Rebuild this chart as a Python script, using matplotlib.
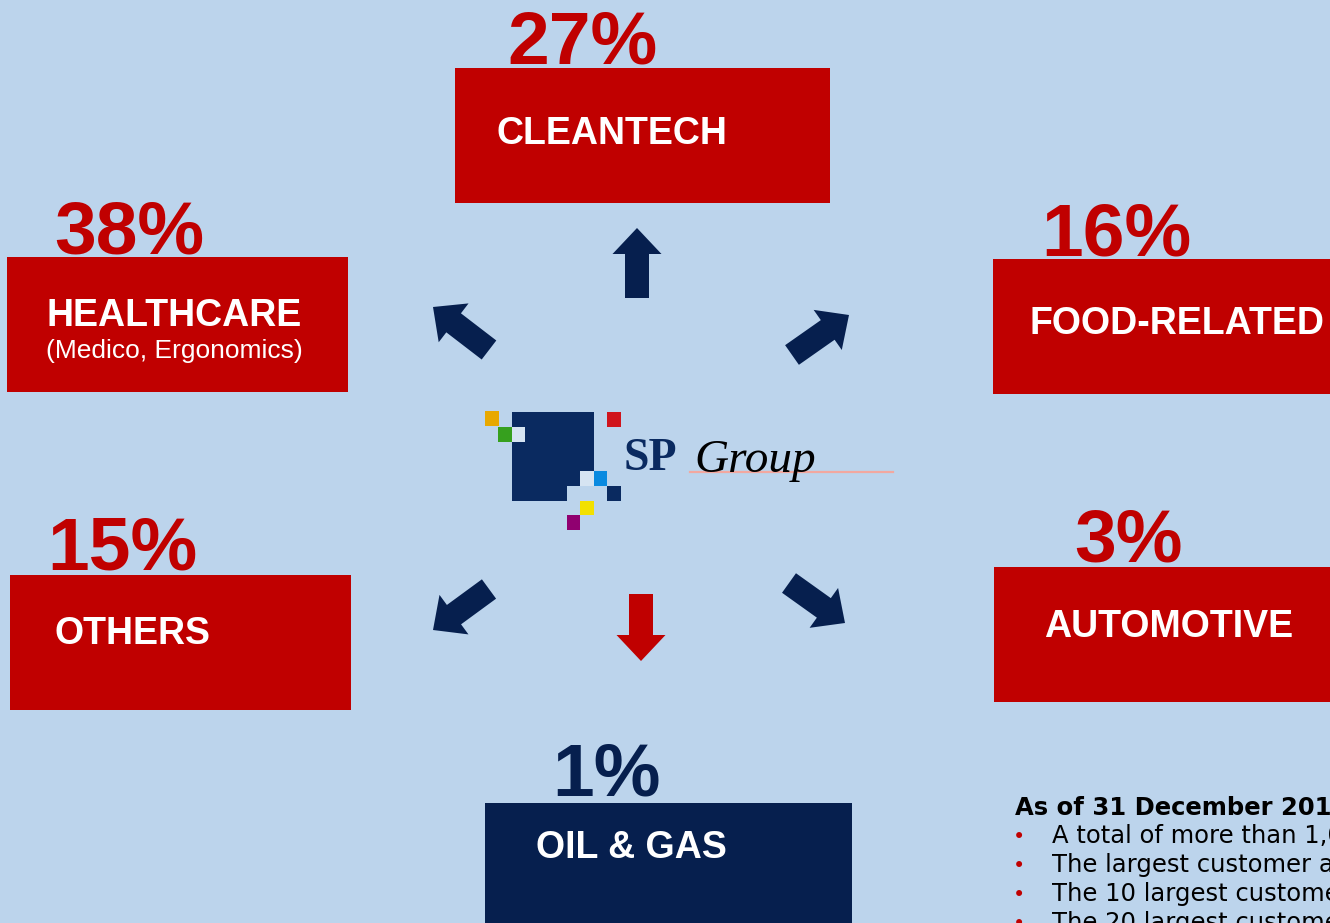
import matplotlib.pyplot as plt
from matplotlib.patches import Rectangle, FancyArrow

# === Data ===
segments = ['CLEANTECH', 'HEALTHCARE', 'FOOD-RELATED', 'OTHERS', 'AUTOMOTIVE', 'OIL & GAS']
shares = [27, 38, 16, 15, 3, 1]
sub_labels = {'HEALTHCARE': '(Medico, Ergonomics)'}
note_title = 'As of 31 December 2015'
note_lines = [
    'A total of more than 1,000 customers',
    'The largest customer accounts for',
    'The 10 largest customers account for',
    'The 20 largest customers account for',
]

# === Colours ===
bg = '#BCD4EC'
red = '#C00000'
navy = '#061F4E'

# === Layout (pixel coords, y down) ===
# box: x0, y0, x1, y1 ; pct: x, baseline ; label: x, baseline, ha
boxes = {
    'CLEANTECH': (455, 68, 830, 203),
    'HEALTHCARE': (7, 257, 348, 392),
    'FOOD-RELATED': (993, 259, 1345, 394),
    'OTHERS': (10, 575, 351, 710),
    'AUTOMOTIVE': (994, 567, 1345, 702),
    'OIL & GAS': (485, 803, 852, 935),
}
pct_pos = {
    'CLEANTECH': (507, 64), 'HEALTHCARE': (54, 253), 'FOOD-RELATED': (1041, 255),
    'OTHERS': (47, 570), 'AUTOMOTIVE': (1074, 562), 'OIL & GAS': (552, 796),
}
label_pos = {
    'CLEANTECH': (497, 144, 'left'), 'HEALTHCARE': (174, 326, 'center'),
    'FOOD-RELATED': (1029, 334, 'left'), 'OTHERS': (54, 644, 'left'),
    'AUTOMOTIVE': (1044, 637, 'left'), 'OIL & GAS': (536, 858, 'left'),
}
# arrows: tail (x, y) -> tip (x, y)
arrows = [
    ((637, 298), (637, 228), navy),
    ((489, 350), (433, 307), navy),
    ((792, 355), (849, 315), navy),
    ((489, 589), (433, 630), navy),
    ((641, 594), (641, 661), red),
    ((789, 583), (845, 623), navy),
]

W, H = 1330, 923
fig = plt.figure(figsize=(W / 100, H / 100), dpi=100)
fig.patch.set_facecolor(bg)
ax = fig.add_axes([0, 0, 1, 1])
ax.set_xlim(0, W)
ax.set_ylim(H, 0)
ax.axis('off')
ax.set_facecolor(bg)

sans = 'Liberation Sans'

# === Boxes and percentages ===
for seg, share in zip(segments, shares):
    x0, y0, x1, y1 = boxes[seg]
    fc = navy if seg == 'OIL & GAS' else red
    ax.add_patch(Rectangle((x0, y0), x1 - x0, y1 - y0, facecolor=fc, edgecolor='none'))
    px, py = pct_pos[seg]
    ax.text(px, py, f'{share}%', family=sans, weight='bold', fontsize=54,
            color=fc, ha='left', va='baseline')
    lx, ly, ha = label_pos[seg]
    ax.text(lx, ly, seg, family=sans, weight='bold', fontsize=27,
            color='white', ha=ha, va='baseline')
    if seg in sub_labels:
        ax.text(lx, ly + 32, sub_labels[seg], family=sans, fontsize=19,
                color='white', ha='center', va='baseline')

# === Arrows ===
for (tx, ty), (hx, hy), c in arrows:
    ax.add_patch(FancyArrow(tx, ty, hx - tx, hy - ty, width=24, head_width=49,
                            head_length=26, length_includes_head=True,
                            facecolor=c, edgecolor='none'))

# === Logo ===
squares = [
    (512, 412, 82, 74, '#0A2A60'),
    (512, 486, 55, 15, '#0A2A60'),
    (512, 427, 13, 15, '#D6E4F2'),
    (580, 471, 14, 15, '#D6E4F2'),
    (485, 411, 14, 15, '#E8A800'),
    (498, 427, 14, 15, '#36A01E'),
    (607, 412, 14, 15, '#D0141C'),
    (594, 471, 13, 15, '#0A8AE0'),
    (607, 486, 14, 15, '#0A2A60'),
    (580, 501, 14, 14, '#F2E000'),
    (567, 515, 13, 15, '#900070'),
]
for x, y, w, h, c in squares:
    ax.add_patch(Rectangle((x, y), w, h, facecolor=c, edgecolor='none'))
ax.plot([690, 893], [471.5, 471.5], color='#F2A8A0', lw=1.6)
ax.text(624, 470, 'SP', family='Liberation Serif', weight='bold', fontsize=33,
        color='#0A2A60', ha='left', va='baseline')
ax.text(694, 472, 'Group', family='Liberation Serif', style='italic', fontsize=34,
        color='black', ha='left', va='baseline')

# === Note, bottom right ===
ax.text(1015, 815, note_title, family='DejaVu Sans', weight='bold', fontsize=17.5,
        color='black', ha='left', va='baseline')
for i, line in enumerate(note_lines):
    yb = 843 + i * 29
    ax.text(1013, yb, '•', family='DejaVu Sans', fontsize=15, color=red,
            ha='left', va='baseline')
    ax.text(1052, yb, line, family='DejaVu Sans', fontsize=17.5,
            color='black', ha='left', va='baseline')

fig.savefig('out.png', dpi=100, facecolor=bg)
